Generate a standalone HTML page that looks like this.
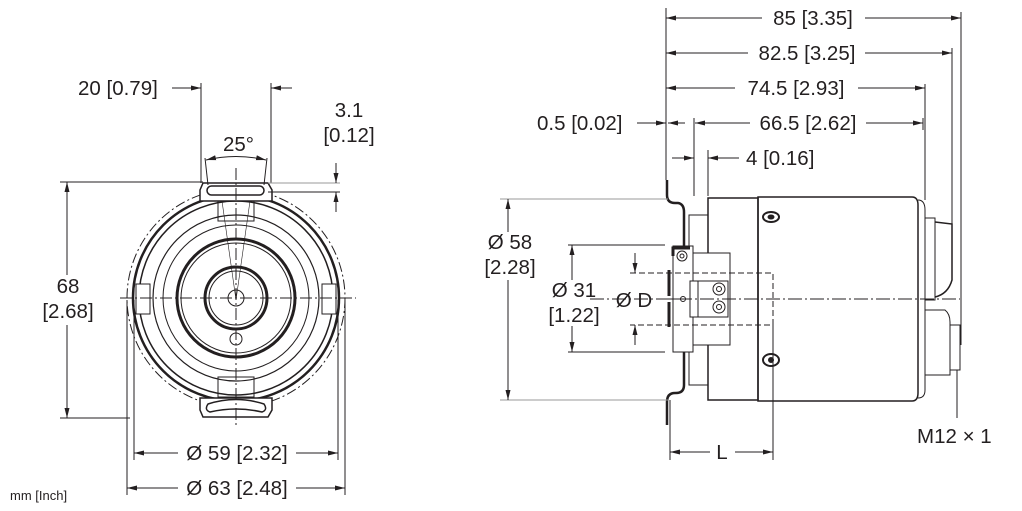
<!DOCTYPE html>
<html><head><meta charset="utf-8"><style>
html,body{margin:0;padding:0;background:#fff;}
svg{display:block}
text{font-family:"Liberation Sans",sans-serif;font-size:20.5px;fill:#231f20}
</style></head><body>
<svg width="1022" height="511" viewBox="0 0 1022 511" xmlns="http://www.w3.org/2000/svg">
<defs>
<marker id="a" viewBox="0 0 10 6" refX="10" refY="3" markerWidth="10" markerHeight="6" orient="auto-start-reverse" markerUnits="userSpaceOnUse"><path d="M0,0.5 L10,3 L0,5.5z" fill="#231f20"/></marker>
</defs>
<g stroke="#231f20" fill="none" stroke-width="1">
<!-- LEFT VIEW -->
<circle cx="236" cy="298" r="109" stroke-dasharray="10,3,2,3"/>
<circle cx="236" cy="298" r="103" stroke-width="2.5"/>
<circle cx="236" cy="298" r="97" stroke-width="1.5"/>
<circle cx="236" cy="298" r="83" stroke-width="1.2"/>
<circle cx="236" cy="298" r="73"/>
<circle cx="236" cy="298" r="59" stroke-width="3"/>
<circle cx="236" cy="298" r="55"/>
<circle cx="236" cy="298" r="31" stroke-width="3"/>
<circle cx="236" cy="298" r="27"/>
<circle cx="236" cy="298" r="8"/>
<circle cx="236" cy="339" r="6"/>
<path d="M203,183 L268,183 L272,190 L272,201 L200,201 L200,190z" fill="#fff" stroke-width="1.5"/>
<rect x="207" y="186" width="57" height="9" rx="4.5" stroke-width="1.5"/>
<path d="M203,417 L268,417 L272,410 L272,398 L200,398 L200,410z" fill="#fff" stroke-width="1.5"/>
<path d="M208,404 Q236,395 264,404 Q268,410 262,412 Q236,406 210,412 Q204,410 208,404z" stroke-width="1.5"/>
<rect x="218" y="201" width="36" height="20"/>
<rect x="218" y="377" width="36" height="20"/>
<rect x="136" y="284" width="14" height="30" fill="#fff"/>
<rect x="322" y="284" width="14" height="30" fill="#fff"/>
<path d="M222,201 L236,300 L250,201" stroke-width="0.6"/>
<line x1="120" y1="298" x2="356" y2="298" stroke-dasharray="12,3,2,3"/>
<line x1="236" y1="168" x2="236" y2="428" stroke-dasharray="12,3,2,3"/>
<!-- left dims -->
<line x1="201" y1="83" x2="201" y2="183"/><line x1="271" y1="83" x2="271" y2="183"/>
<line x1="172" y1="88" x2="201" y2="88" marker-end="url(#a)"/><line x1="292" y1="88" x2="271" y2="88" marker-end="url(#a)"/>
<path d="M206,160 Q236,153 266,160" marker-start="url(#a)" marker-end="url(#a)"/>
<line x1="205" y1="158" x2="208" y2="185"/><line x1="267" y1="158" x2="264" y2="185"/>
<line x1="60" y1="182" x2="203" y2="182"/>
<line x1="268" y1="183" x2="340" y2="183" stroke="#999"/><line x1="268" y1="192" x2="340" y2="192"/>
<line x1="336" y1="163" x2="336" y2="183" marker-end="url(#a)"/><line x1="336" y1="212" x2="336" y2="192" marker-end="url(#a)"/>
<line x1="60" y1="418" x2="130" y2="418"/>
<line x1="67" y1="275" x2="67" y2="182" marker-end="url(#a)"/><line x1="67" y1="325" x2="67" y2="418" marker-end="url(#a)"/>
<line x1="134" y1="300" x2="134" y2="460"/><line x1="338" y1="300" x2="338" y2="460"/>
<line x1="127" y1="300" x2="127" y2="495"/><line x1="345" y1="300" x2="345" y2="495"/>
<line x1="178" y1="453" x2="134" y2="453" marker-end="url(#a)"/><line x1="296" y1="453" x2="338" y2="453" marker-end="url(#a)"/>
<line x1="178" y1="488" x2="127" y2="488" marker-end="url(#a)"/><line x1="296" y1="488" x2="345" y2="488" marker-end="url(#a)"/>

<!-- RIGHT VIEW -->
<line x1="666" y1="8" x2="666" y2="180"/>
<line x1="694" y1="118" x2="694" y2="196"/>
<line x1="708" y1="150" x2="708" y2="196"/>
<line x1="961" y1="12" x2="961" y2="345"/>
<line x1="952" y1="48" x2="952" y2="230"/>
<line x1="925" y1="84" x2="925" y2="200"/>
<line x1="923" y1="118" x2="923" y2="130"/>
<line x1="762" y1="18" x2="666" y2="18" marker-end="url(#a)"/><line x1="865" y1="18" x2="961" y2="18" marker-end="url(#a)"/>
<line x1="748" y1="53" x2="666" y2="53" marker-end="url(#a)"/><line x1="865" y1="53" x2="952" y2="53" marker-end="url(#a)"/>
<line x1="735" y1="88" x2="666" y2="88" marker-end="url(#a)"/><line x1="858" y1="88" x2="925" y2="88" marker-end="url(#a)"/>
<line x1="637" y1="123" x2="666" y2="123" marker-end="url(#a)"/><line x1="685" y1="123" x2="668" y2="123" marker-end="url(#a)"/>
<line x1="750" y1="123" x2="695" y2="123" marker-end="url(#a)"/><line x1="866" y1="123" x2="923" y2="123" marker-end="url(#a)"/>
<line x1="672" y1="158" x2="694" y2="158" marker-end="url(#a)"/><line x1="739" y1="158" x2="708" y2="158" marker-end="url(#a)"/>
<!-- flange -->
<path d="M667,180 L667,195 Q667,203 675,203 L678,203 Q684,204 684,212 L684,385 Q684,393 676,393 L675,393 Q667,393 667,402 L667,425" stroke-width="2.5"/>
<rect x="689" y="215" width="19" height="170"/>
<rect x="708" y="198" width="50" height="202" stroke-width="1.5"/>
<path d="M758,197 L912,197 Q918,197 918,205 L918,393 Q918,401 912,401 L758,401z" stroke-width="1.5"/>
<path d="M918,200 Q925,200 925,210 L925,390 Q925,398 918,398"/>
<ellipse cx="771" cy="217" rx="8" ry="5" stroke-width="2"/><ellipse cx="771" cy="217" rx="3" ry="2" fill="#231f20"/>
<ellipse cx="771" cy="360" rx="8" ry="6" stroke-width="2"/><ellipse cx="771" cy="360" rx="2.5" ry="2.5" fill="#231f20"/>
<rect x="673" y="246" width="20" height="106" fill="#fff"/>
<line x1="669" y1="270" x2="669" y2="296" stroke-width="3"/><line x1="669" y1="302" x2="669" y2="327" stroke-width="3"/>
<path d="M673,256 L673,248 L690,248" stroke-width="3"/>
<circle cx="682" cy="256" r="5"/><circle cx="682" cy="256" r="2"/>
<rect x="693" y="253" width="37" height="92" fill="#fff"/>
<rect x="690" y="281" width="38" height="36" fill="#fff"/>
<line x1="698" y1="281" x2="698" y2="317"/>
<circle cx="719" cy="289" r="6"/><circle cx="719" cy="289" r="2.5"/>
<circle cx="719" cy="307" r="6"/><circle cx="719" cy="307" r="2.5"/>
<circle cx="683" cy="299" r="2.5"/>
<path d="M630,273 L773,273 L773,325 L630,325" stroke-dasharray="6,3"/>
<line x1="773" y1="325" x2="773" y2="460"/>
<path d="M925,218 L935,218 L935,300 L925,300" />
<path d="M935,222 L952,224 L952,280 Q948,294 935,297" stroke-width="1.5"/>
<path d="M925,310 L945,310 Q950,314 950,322 L950,375 L925,375"/>
<rect x="950" y="325" width="10" height="45"/>
<line x1="957" y1="370" x2="957" y2="418"/>
<line x1="590" y1="299" x2="960" y2="299" stroke-dasharray="14,3,2,3"/>
<!-- right dims -->
<line x1="500" y1="199" x2="668" y2="199" stroke="#999"/><line x1="500" y1="400" x2="668" y2="400" stroke="#999"/>
<line x1="508" y1="232" x2="508" y2="199" marker-end="url(#a)"/><line x1="508" y1="280" x2="508" y2="400" marker-end="url(#a)"/>
<line x1="568" y1="245" x2="665" y2="245"/><line x1="568" y1="352" x2="665" y2="352"/>
<line x1="572" y1="280" x2="572" y2="245" marker-end="url(#a)"/><line x1="572" y1="326" x2="572" y2="352" marker-end="url(#a)"/>
<line x1="635" y1="253" x2="635" y2="273" marker-end="url(#a)"/><line x1="635" y1="345" x2="635" y2="325" marker-end="url(#a)"/>
<line x1="670" y1="400" x2="670" y2="460"/>
<line x1="710" y1="452" x2="670" y2="452" marker-end="url(#a)"/><line x1="735" y1="452" x2="773" y2="452" marker-end="url(#a)"/>
<line x1="660" y1="299" x2="680" y2="299"/>
</g>
<text x="78" y="95">20 [0.79]</text>
<text x="223" y="151">25°</text>
<text x="349" y="117" text-anchor="middle">3.1</text>
<text x="349" y="142" text-anchor="middle">[0.12]</text>
<text x="68" y="293" text-anchor="middle">68</text>
<text x="68" y="318" text-anchor="middle">[2.68]</text>
<text x="237" y="460" text-anchor="middle">Ø 59 [2.32]</text>
<text x="237" y="495" text-anchor="middle">Ø 63 [2.48]</text>
<text x="10" y="500" style="font-size:13px">mm [Inch]</text>
<text x="813" y="25" text-anchor="middle">85 [3.35]</text>
<text x="807" y="60" text-anchor="middle">82.5 [3.25]</text>
<text x="796" y="95" text-anchor="middle">74.5 [2.93]</text>
<text x="808" y="130" text-anchor="middle">66.5 [2.62]</text>
<text x="537" y="130">0.5 [0.02]</text>
<text x="746" y="165">4 [0.16]</text>
<text x="510" y="249" text-anchor="middle">Ø 58</text>
<text x="510" y="274" text-anchor="middle">[2.28]</text>
<text x="574" y="297" text-anchor="middle">Ø 31</text>
<text x="574" y="322" text-anchor="middle">[1.22]</text>
<text x="634" y="307" text-anchor="middle">Ø D</text>
<text x="722" y="459" text-anchor="middle">L</text>
<text x="917" y="443">M12 × 1</text>
</svg>
</body></html>
